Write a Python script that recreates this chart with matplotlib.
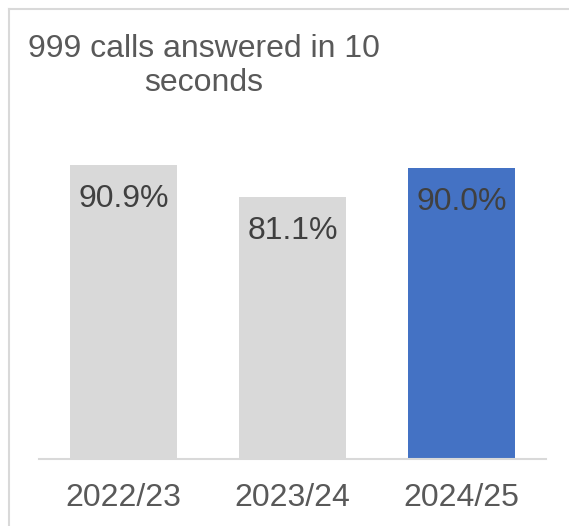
import matplotlib.pyplot as plt

# data
years = ['2022/23', '2023/24', '2024/25']
pct_answered = [90.9, 81.1, 90.0]
bar_colors = ['#d9d9d9', '#d9d9d9', '#4472c4']

plt.rcParams['font.family'] = ['Liberation Sans', 'DejaVu Sans']

fig = plt.figure(figsize=(5.69, 5.26), dpi=100)
W, H = 569, 526
ax = fig.add_axes([39 / W, (H - 459) / H, (546 - 39) / W, (459 - 136) / H])

ax.bar(range(len(years)), pct_answered, width=0.63, color=bar_colors)
ax.set_xlim(-0.5, 2.5)
ax.set_ylim(0, 100)

for i, v in enumerate(pct_answered):
    ax.annotate(f'{v:.1f}%', (i, v), xytext=(0, -24.5), textcoords='offset points',
                ha='center', va='center', fontsize=23, color='#404040')

ax.set_xticks(range(len(years)))
ax.set_xticklabels(years, fontsize=23, color='#595959')
ax.tick_params(axis='x', length=0, pad=17.5)
ax.set_yticks([])
for side in ['left', 'right', 'top']:
    ax.spines[side].set_visible(False)
ax.spines['bottom'].set_color('#d9d9d9')
ax.spines['bottom'].set_linewidth(1.5)

fig.text(204 / W, 1 - 66 / H, '999 calls answered in 10\nseconds', ha='center', va='center',
         fontsize=23, color='#595959', linespacing=1.2)

# chart frame (left and top edges visible)
fig.add_artist(plt.Line2D([9 / W, 9 / W], [0, 1 - 9 / H], color='#d9d9d9', lw=1.5))
fig.add_artist(plt.Line2D([9 / W, 1], [1 - 9 / H, 1 - 9 / H], color='#d9d9d9', lw=1.5))

fig.savefig('out.png', dpi=100)
